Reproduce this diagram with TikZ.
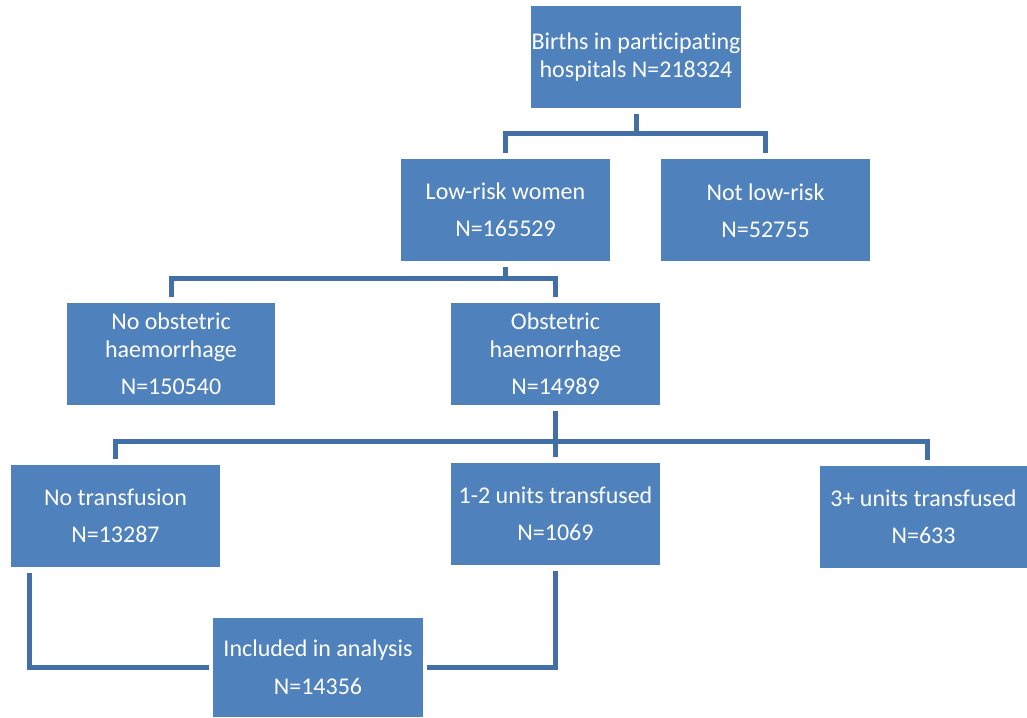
\documentclass[tikz,border=0pt]{standalone}
\usepackage{fontspec}
\setmainfont[Ligatures={NoCommon}]{Carlito}
\definecolor{boxblue}{HTML}{4F81BD}
\definecolor{lineblue}{HTML}{416FA6}
\begin{document}
\begin{tikzpicture}[x=1pt,y=1pt,
  box/.style={fill=boxblue, draw=none, text=white, align=center,
    minimum width=209, minimum height=102, inner sep=0pt,
    font=\fontsize{24}{28}\selectfont},
  conn/.style={draw=lineblue, line width=5pt, line join=miter}]
\useasboundingbox (0,0) rectangle (1027,717);
\node[box, minimum width=210] (top) at (636,660) {Births in participating\\hospitals N=218324};
\node[box] (lowrisk) at (505.5,507) {Low-risk women\\[9pt]N=165529};
\node[box] (notlow) at (765.5,506.5) {Not low-risk\\[9pt]N=52755};
\node[box, minimum width=208] (noobs) at (171,363) {No obstetric\\haemorrhage\\[9pt]N=150540};
\node[box] (obs) at (555.5,363) {Obstetric\\haemorrhage\\[9pt]N=14989};
\node[box] (notrans) at (115.5,201) {No transfusion\\[9pt]N=13287};
\node[box] (units12) at (555.5,203) {1-2 units transfused\\[9pt]N=1069};
\node[box, minimum width=207] (units3) at (923.5,200) {3+ units transfused\\[9pt]N=633};
\node[box, minimum width=210, minimum height=99] (incl) at (318,49.5) {Included in analysis\\[10pt]N=14356};
% connectors
\draw[conn] ([yshift=-6]top.south) -- ++(0,-19) coordinate (j1);
\draw[conn] ([yshift=6]lowrisk.north) |- (j1) -| ([yshift=6]notlow.north);
\draw[conn] ([yshift=-6]lowrisk.south) -- ++(0,-11) coordinate (j2);
\draw[conn] ([yshift=6]noobs.north) |- (j2) -| ([yshift=6]obs.north);
\draw[conn] ([yshift=-6]obs.south) -- ++(0,-30) coordinate (j3);
\draw[conn] ([yshift=6]notrans.north) |- (j3) -| ([xshift=3.5,yshift=6]units3.north);
\draw[conn] ([yshift=6]units12.north) -- (j3);
\draw[conn] ([xshift=19,yshift=-6]notrans.south west) |- ([xshift=-4]incl.west);
\draw[conn] ([yshift=-6]units12.south) |- ([xshift=4]incl.east);
\end{tikzpicture}
\end{document}
